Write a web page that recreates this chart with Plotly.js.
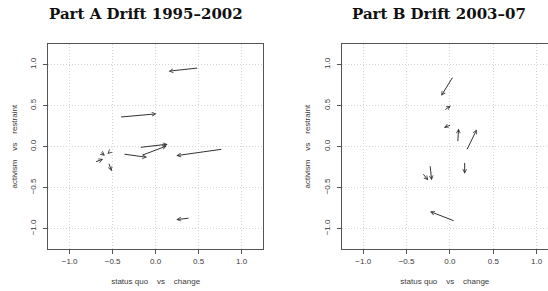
<!DOCTYPE html>
<html><head><meta charset="utf-8">
<script src="https://cdn.plot.ly/plotly-3.0.1.min.js"></script>
<style>body{margin:0;background:#fff}#chart{width:548px;height:291px}</style>
</head><body><div id="chart"></div>
<script>
// Tick values / labels (shared by both panels)
const tickVals = [-1, -0.5, 0, 0.5, 1];
const tickLabels = ['\u22121.0', '\u22120.5', '0.0', '0.5', '1.0'];

// Panel A: Drift 1995–2002 (tail -> head)
const aFromX = [0.50, -0.42, -0.19, -0.38, -0.17, 0.78, -0.71, -0.65, -0.52, -0.55, 0.40];
const aFromY = [0.96, 0.36, -0.01, -0.09, -0.11, -0.03, -0.19, -0.06, -0.05, -0.19, -0.87];
const aToX   = [0.15, 0.01, 0.14, -0.10, 0.13, 0.24, -0.61, -0.59, -0.56, -0.51, 0.24];
const aToY   = [0.92, 0.40, 0.03, -0.13, 0.01, -0.11, -0.15, -0.11, -0.09, -0.30, -0.89];

// Panel B: Drift 2003–07 (tail -> head)
const bFromX = [0.04, -0.07, 0.02, 0.09, 0.19, 0.17, -0.23, -0.32, 0.06];
const bFromY = [0.86, 0.44, 0.27, 0.05, -0.05, -0.18, -0.22, -0.32, -0.91];
const bToX   = [-0.10, 0.01, -0.07, 0.10, 0.31, 0.17, -0.21, -0.25, -0.23];
const bToY   = [0.62, 0.50, 0.23, 0.22, 0.21, -0.33, -0.41, -0.41, -0.79];

const titleA = 'Part A Drift 1995\u20132002';
const titleB = 'Part B Drift 2003\u201307';
const xTitle = 'status quo\u00a0\u00a0\u00a0\u00a0vs\u00a0\u00a0\u00a0\u00a0change';
const yTitle = 'activism\u00a0\u00a0\u00a0\u00a0vs\u00a0\u00a0\u00a0\u00a0restraint';

const W = 548, H = 291;
const lineCol = '#555', txtCol = '#3a3a3a', arrowCol = '#333';
const sans = 'Liberation Sans, Arial, sans-serif';

function makeArrows(fx, fy, tx, ty, xr, yr) {
  return fx.map((v, i) => ({
    x: tx[i], y: ty[i], ax: fx[i], ay: fy[i],
    xref: xr, yref: yr, axref: xr, ayref: yr,
    text: '', showarrow: true, arrowhead: 5, arrowsize: 0.75,
    arrowwidth: 1, arrowcolor: arrowCol, standoff: 0, startstandoff: 0
  }));
}

function axisBase(extra) {
  return Object.assign({
    tickvals: tickVals, ticktext: tickLabels,
    ticks: 'outside', ticklen: 4, tickcolor: lineCol, tickwidth: 1,
    showline: true, linecolor: lineCol, linewidth: 1,
    showgrid: true, gridcolor: '#d4d4d4', griddash: '1px,2px', gridwidth: 1,
    zeroline: false, fixedrange: true, automargin: false,
    tickfont: {family: sans, size: 8, color: txtCol}
  }, extra);
}

const ydom = [(H - 249) / H, (H - 44.3) / H];
const layout = {
  width: W, height: H,
  margin: {l: 0, r: 0, t: 0, b: 0, pad: 0},
  paper_bgcolor: '#fff', plot_bgcolor: '#fff',
  showlegend: false,
  xaxis: axisBase({domain: [48.3 / W, 263 / W], range: [-1.248, 1.248], mirror: true, anchor: 'y',
    title: {text: xTitle, standoff: 13, font: {family: sans, size: 8, color: txtCol}}}),
  yaxis: axisBase({domain: ydom, range: [-1.248, 1.248], mirror: true, anchor: 'x', tickangle: -90,
    ticklabelstandoff: 4,
    title: {text: yTitle, standoff: 10, font: {family: sans, size: 8, color: txtCol}}}),
  xaxis2: axisBase({domain: [341.7 / W, 1], range: [-1.248, 1.131], mirror: true, anchor: 'y2',
    title: {text: xTitle, standoff: 13, font: {family: sans, size: 8, color: txtCol}}}),
  yaxis2: axisBase({domain: ydom, range: [-1.248, 1.248], mirror: false, anchor: 'x2', tickangle: -90,
    ticklabelstandoff: 4,
    title: {text: yTitle, standoff: 10, font: {family: sans, size: 8, color: txtCol}}}),
  annotations: [
    {text: '<b>' + titleA + '</b>', xref: 'paper', yref: 'paper', x: 146 / W, y: (H - 14) / H,
     xanchor: 'center', yanchor: 'middle', showarrow: false,
     font: {family: 'DejaVu Serif, serif', size: 15, color: '#111'}},
    {text: '<b>' + titleB + '</b>', xref: 'paper', yref: 'paper', x: 439 / W, y: (H - 14) / H,
     xanchor: 'center', yanchor: 'middle', showarrow: false,
     font: {family: 'DejaVu Serif, serif', size: 15, color: '#111'}}
  ].concat(makeArrows(aFromX, aFromY, aToX, aToY, 'x', 'y'))
   .concat(makeArrows(bFromX, bFromY, bToX, bToY, 'x2', 'y2'))
};

// invisible trace per panel so the axes exist
const traces = [
  {x: aToX, y: aToY, xaxis: 'x', yaxis: 'y', mode: 'markers', marker: {opacity: 0}, hoverinfo: 'skip'},
  {x: bToX, y: bToY, xaxis: 'x2', yaxis: 'y2', mode: 'markers', marker: {opacity: 0}, hoverinfo: 'skip'}
];

Plotly.newPlot('chart', traces, layout, {staticPlot: true, displayModeBar: false});
</script>
</body></html>
